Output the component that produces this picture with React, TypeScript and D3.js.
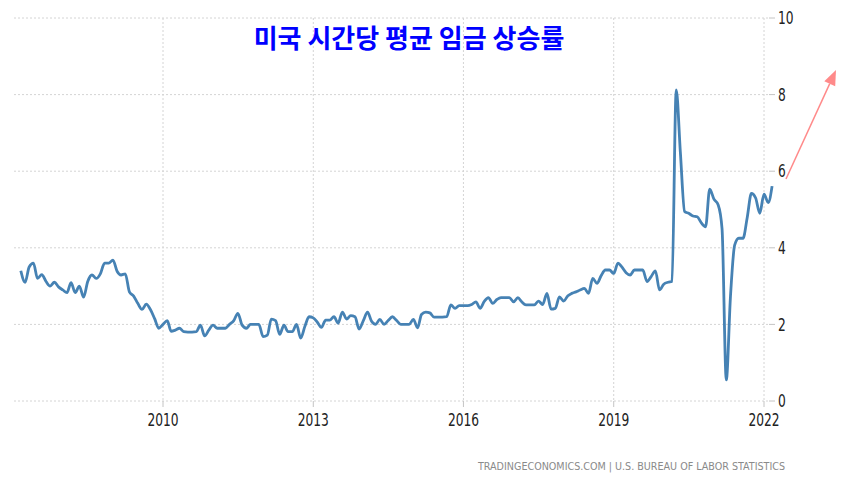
import React from "react";
import * as d3 from "d3";

// Monthly YoY % change of US average hourly earnings, Mar 2007 – Mar 2022
const values2007 = [3.4, 3.1, 3.5, 3.6, 3.2, 3.3, 3.12, 3.0, 3.1, 2.98]; // Mar–Dec
const values2008 = [2.9, 2.83, 3.09, 2.83, 3.0, 2.71, 3.12, 3.29, 3.2, 3.32, 3.6, 3.6];
const values2009 = [3.68, 3.38, 3.29, 3.32, 2.85, 2.74, 2.55, 2.39, 2.53, 2.39, 2.15, 1.9];
const values2010 = [2.0, 2.1, 1.82, 1.85, 1.9, 1.81, 1.8, 1.8, 1.81, 1.98, 1.7, 1.85];
const values2011 = [1.98, 1.9, 1.9, 1.9, 2.0, 2.1, 2.29, 1.98, 1.9, 2.0, 2.0, 2.0];
const values2012 = [1.68, 1.72, 2.14, 2.1, 1.74, 1.98, 1.81, 1.81, 2.0, 1.64, 1.95, 2.2];
const values2013 = [2.17, 2.05, 1.92, 2.11, 2.11, 2.2, 2.03, 2.32, 2.14, 2.23, 2.2, 1.88];
const values2014 = [2.1, 2.32, 2.09, 2.0, 2.13, 2.0, 2.1, 2.2, 2.1, 2.0, 2.0, 2.0];
const values2015 = [2.13, 1.91, 2.26, 2.32, 2.3, 2.19, 2.19, 2.19, 2.2, 2.51, 2.42, 2.49];
const values2016 = [2.49, 2.49, 2.52, 2.59, 2.42, 2.6, 2.7, 2.55, 2.65, 2.7, 2.7, 2.7];
const values2017 = [2.59, 2.7, 2.59, 2.51, 2.51, 2.51, 2.61, 2.52, 2.81, 2.4, 2.42, 2.72];
const values2018 = [2.61, 2.75, 2.81, 2.85, 2.9, 2.94, 2.81, 3.2, 3.07, 3.27, 3.42, 3.42];
const values2019 = [3.33, 3.6, 3.5, 3.35, 3.29, 3.42, 3.42, 3.42, 3.12, 3.25, 3.4, 2.9];
const values2020 = [3.05, 3.1, 3.12, 8.12, 6.5, 4.95, 4.9, 4.83, 4.81, 4.65, 4.55, 5.53];
const values2021 = [5.27, 5.12, 4.5, 0.55, 2.7, 4.07, 4.25, 4.25, 4.8, 5.42, 5.3, 4.9];
const values2022 = [5.4, 5.18, 5.61]; // Jan–Mar

const startYear = 2007;
const startMonth = 2; // March (0-based)

const xTickYears = [2010, 2013, 2016, 2019, 2022];
const yTickValues = [0, 2, 4, 6, 8, 10];

const titleText = "미국 시간당 평균 임금 상승률";
const sourceText = "TRADINGECONOMICS.COM | U.S. BUREAU OF LABOR STATISTICS";

const allValues = [
  ...values2007, ...values2008, ...values2009, ...values2010, ...values2011,
  ...values2012, ...values2013, ...values2014, ...values2015, ...values2016,
  ...values2017, ...values2018, ...values2019, ...values2020, ...values2021,
  ...values2022,
];
const series = allValues.map((v, i) => ({ date: new Date(startYear, startMonth + i, 1), value: v }));

export default function App() {
  const W = 856, H = 483;
  const x = d3.scaleTime().domain([new Date(2010, 0, 1), new Date(2022, 0, 1)]).range([163, 764]);
  const y = d3.scaleLinear().domain([0, 10]).range([401, 18]);
  const gridLeft = 14, gridRight = 775;

  const line = d3.line<{ date: Date; value: number }>()
    .x(d => x(d.date))
    .y(d => y(d.value))
    .curve(d3.curveMonotoneX);

  const axisFont = "'Liberation Sans Narrow', 'DejaVu Sans Condensed', 'Roboto Condensed', Arial, sans-serif";

  // annotation arrow
  const a0 = [786, 179], a1 = [836, 70];
  const dx = a1[0] - a0[0], dy = a1[1] - a0[1];
  const len = Math.hypot(dx, dy);
  const ux = dx / len, uy = dy / len;
  const hl = 15, hw = 6;
  const bx = a1[0] - ux * hl, by = a1[1] - uy * hl;
  const px = -uy, py = ux;

  return (
    <svg width={W} height={H} style={{ position: "absolute", left: 0, top: 0, background: "#fff" }}>
      <rect x={0} y={0} width={W} height={H} fill="#fff" />
      {/* horizontal grid */}
      {yTickValues.map(t => (
        <g key={"h" + t}>
          <line x1={gridLeft} x2={gridRight - 6} y1={y(t)} y2={y(t)} stroke="#d4d4d4" strokeDasharray="2,2" />
          <line x1={gridRight - 6} x2={gridRight} y1={y(t)} y2={y(t)} stroke="#c4c4c4" />
          <text transform={`translate(778,${y(t)}) scale(0.8,1)`} dy="0.36em" fontFamily={axisFont} fontSize={17} fontWeight={500} fill="#222">{t}</text>
        </g>
      ))}
      {/* vertical grid */}
      {xTickYears.map(yr => {
        const xx = x(new Date(yr, 0, 1));
        return (
          <g key={"v" + yr}>
            <line x1={xx} x2={xx} y1={y(10)} y2={y(0)} stroke="#d4d4d4" strokeDasharray="2,2" />
            <line x1={xx} x2={xx} y1={y(0)} y2={y(0) + 6} stroke="#c4c4c4" />
            <text transform={`translate(${xx},426) scale(0.8,1)`} textAnchor="middle" fontFamily={axisFont} fontSize={17} fontWeight={500} fill="#222">{yr}</text>
          </g>
        );
      })}
      {/* data line */}
      <path d={line(series) || ""} fill="none" stroke="#4682b4" strokeWidth={2.8} strokeLinejoin="round" />
      {/* title */}
      <text x={409} y={48} textAnchor="middle" fontFamily="'Noto Sans CJK KR', sans-serif" fontWeight="bold" fontSize={26} fill="#0000ff">{titleText}</text>
      {/* arrow annotation */}
      <line x1={a0[0]} y1={a0[1]} x2={bx} y2={by} stroke="#ff8a8a" strokeWidth={1.5} />
      <polygon points={`${a1[0]},${a1[1]} ${bx + px * hw},${by + py * hw} ${bx - px * hw},${by - py * hw}`} fill="#ff8a8a" />
      {/* source */}
      <text x={785} y={470} textAnchor="end" fontFamily={axisFont} fontSize={11} fill="#8a8a8a" textLength={307} lengthAdjust="spacingAndGlyphs">{sourceText}</text>
    </svg>
  );
}
